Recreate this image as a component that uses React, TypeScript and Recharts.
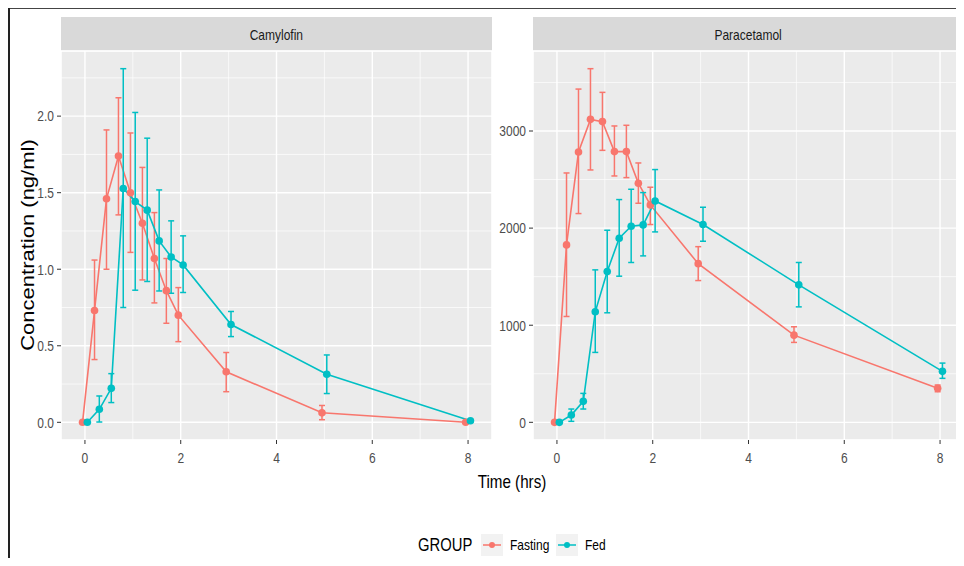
import React from 'react'
import { LineChart, Line, XAxis, YAxis, CartesianGrid, ErrorBar } from 'recharts'

// sampling times (hrs)
const TIME = [0, 0.25, 0.5, 0.75, 1, 1.25, 1.5, 1.75, 2, 3, 5, 8]
const GROUPS = ['Fasting', 'Fed']
const PANELS = ['Camylofin', 'Paracetamol']

// Camylofin (ng/ml): mean, lower and upper end of the error bar
const camFastMean = [0, 0.73, 1.46, 1.74, 1.5, 1.3, 1.07, 0.86, 0.7, 0.33, 0.062, 0]
const camFastLow = [0, 0.41, 1.0, 1.355, 1.11, 0.93, 0.78, 0.647, 0.527, 0.2, 0.017, 0]
const camFastHigh = [0, 1.06, 1.91, 2.12, 1.89, 1.665, 1.37, 1.07, 0.88, 0.456, 0.11, 0]
const camFedMean = [0, 0.085, 0.222, 1.527, 1.442, 1.386, 1.185, 1.08, 1.028, 0.639, 0.314, 0.01]
const camFedLow = [0, 0.002, 0.129, 0.75, 0.863, 0.92, 0.858, 0.843, 0.848, 0.56, 0.188, 0.004]
const camFedHigh = [0, 0.172, 0.318, 2.31, 2.024, 1.856, 1.518, 1.316, 1.218, 0.724, 0.44, 0.018]

// Paracetamol
const parFastMean = [0, 1827, 2784, 3120, 3097, 2788, 2788, 2462, 2239, 1634, 898, 350]
const parFastLow = [0, 1090, 2150, 2599, 2801, 2537, 2520, 2256, 2037, 1460, 823, 315]
const parFastHigh = [0, 2568, 3432, 3642, 3398, 3052, 3059, 2671, 2421, 1809, 984, 384]
const parFedMean = [0, 75, 216, 1138, 1553, 1896, 2020, 2033, 2280, 2037, 1416, 525]
const parFedLow = [0, 10, 137, 720, 1128, 1505, 1646, 1714, 1961, 1865, 1189, 453]
const parFedHigh = [0, 137, 298, 1570, 1978, 2294, 2400, 2366, 2603, 2215, 1646, 610]

// axis ticks
const xTicks = [0, 2, 4, 6, 8]
const xMinor = [1, 3, 5, 7]
const camTicks = [0, 0.5, 1, 1.5, 2]
const camMinor = [0.25, 0.75, 1.25, 1.75, 2.25]
const parTicks = [0, 1000, 2000, 3000]
const parMinor = [500, 1500, 2500, 3500]

const COLORS = ['#F8766D', '#00BFC4']
const DODGE = [-0.05, 0.05]
const FONT = '"Liberation Sans", Arial, sans-serif'
const SQUEEZE = 0.8 // the original figure is squeezed sideways

const rows = (mean: number[], low: number[], high: number[], shift: number) =>
  TIME.map((t, i) => ({ x: t + shift, y: mean[i], err: [mean[i] - low[i], high[i] - mean[i]] }))

// narrow tick text
function Tick(props: any) {
  const { x, y, payload, textAnchor, verticalAnchor, tickFormatter } = props
  const label = tickFormatter ? tickFormatter(payload.value) : String(payload.value)
  const dy = verticalAnchor === 'start' ? '0.71em' : '0.355em'
  return (
    <g transform={`translate(${x},${y})`}>
      <text transform={`scale(${SQUEEZE},1)`} textAnchor={textAnchor} dy={dy} fill="#4D4D4D" fontSize={15} fontFamily={FONT}>
        {label}
      </text>
    </g>
  )
}

function Panel({ series, yTicks, yMinor, yDomain, fmt, left }: any) {
  return (
    <div style={{ position: 'absolute', left, top: 0 }}>
      <LineChart width={484} height={470} margin={{ top: 43, right: 0, bottom: 8, left: 0 }}>
        <XAxis xAxisId="minor" type="number" dataKey="x" domain={[-0.5, 8.5]} ticks={xMinor} allowDataOverflow hide />
        <YAxis yAxisId="minor" type="number" domain={yDomain} ticks={yMinor} allowDataOverflow hide />
        <CartesianGrid xAxisId="minor" yAxisId="minor" stroke="#FFFFFF" strokeWidth={0.7} fill="#EBEBEB" />
        <CartesianGrid stroke="#FFFFFF" strokeWidth={1.4} />
        <XAxis
          type="number"
          dataKey="x"
          domain={[-0.5, 8.5]}
          ticks={xTicks}
          allowDataOverflow
          axisLine={false}
          tickLine={{ stroke: '#333333' }}
          tickSize={4}
          tickMargin={8}
          tick={<Tick />}
          height={30}
        />
        <YAxis
          type="number"
          domain={yDomain}
          ticks={yTicks}
          allowDataOverflow
          axisLine={false}
          tickLine={{ stroke: '#333333' }}
          tickSize={4}
          tickMargin={3}
          tick={<Tick />}
          tickFormatter={fmt}
          width={53}
        />
        {series.map((data: any, i: number) => (
          <Line
            key={GROUPS[i]}
            data={data}
            dataKey="y"
            stroke={COLORS[i]}
            strokeWidth={1.6}
            dot={{ r: 3.8, fill: COLORS[i], stroke: COLORS[i], strokeWidth: 0 }}
            activeDot={false}
            isAnimationActive={false}
          >
            <ErrorBar dataKey="err" direction="y" width={3} stroke={COLORS[i]} strokeWidth={1.5} />
          </Line>
        ))}
      </LineChart>
    </div>
  )
}

const narrow = (size: number): React.CSSProperties => ({
  fontFamily: FONT, fontSize: size, display: 'inline-block', transform: `scaleX(${SQUEEZE})`,
  transformOrigin: 'left center', whiteSpace: 'nowrap', lineHeight: 1,
})

function Strip({ label, left }: { label: string; left: number }) {
  return (
    <div
      style={{
        position: 'absolute', left, top: 9, width: 431, height: 34, background: '#D9D9D9',
        display: 'flex', alignItems: 'center', justifyContent: 'center', color: '#1A1A1A',
      }}
    >
      <span style={{ ...narrow(15), transformOrigin: 'center' }}>{label}</span>
    </div>
  )
}

function Key({ color, left }: { color: string; left: number }) {
  return (
    <svg width={22} height={22} style={{ position: 'absolute', left, top: 526, background: '#F2F2F2' }}>
      <line x1={2} x2={20} y1={11} y2={11} stroke={color} strokeWidth={1.5} />
      <circle cx={11} cy={11} r={3} fill={color} />
    </svg>
  )
}

function Label({ text, left, size }: { text: string; left: number; size: number }) {
  return (
    <div style={{ position: 'absolute', left, top: 537, transform: 'translateY(-50%)', color: '#000' }}>
      <span style={narrow(size)}>{text}</span>
    </div>
  )
}

export default function App() {
  const cam = [
    rows(camFastMean, camFastLow, camFastHigh, DODGE[0]),
    rows(camFedMean, camFedLow, camFedHigh, DODGE[1]),
  ]
  const par = [
    rows(parFastMean, parFastLow, parFastHigh, DODGE[0]),
    rows(parFedMean, parFedLow, parFedHigh, DODGE[1]),
  ]

  return (
    <div style={{ position: 'relative', width: 956, height: 550, background: '#FFFFFF' }}>
      <div style={{ position: 'absolute', left: 0, top: -1, width: 956, height: 2, background: '#444' }} />
      <div style={{ position: 'absolute', left: 0, top: -1, width: 1.5, height: 551, background: '#222' }} />

      <Strip label={PANELS[0]} left={53} />
      <Strip label={PANELS[1]} left={525} />

      <Panel series={cam} yTicks={camTicks} yMinor={camMinor} yDomain={[-0.1155, 2.4255]} fmt={(v: number) => v.toFixed(1)} left={0} />
      <Panel series={par} yTicks={parTicks} yMinor={parMinor} yDomain={[-182, 3824]} fmt={(v: number) => String(v)} left={472} />

      <div
        style={{
          position: 'absolute', left: 20, top: 237, transform: 'translate(-50%, -50%) rotate(-90deg) scaleY(0.8)',
          whiteSpace: 'nowrap', fontFamily: FONT, fontSize: 22, color: '#000',
        }}
      >
        Concentration (ng/ml)
      </div>

      <div style={{ position: 'absolute', left: 504, top: 474, transform: 'translate(-50%, -50%)', color: '#000' }}>
        <span style={{ ...narrow(19), transformOrigin: 'center' }}>Time (hrs)</span>
      </div>

      {/* legend */}
      <Label text="GROUP" left={410} size={18.5} />
      <Key color={COLORS[0]} left={473} />
      <Label text={GROUPS[0]} left={502} size={15} />
      <Key color={COLORS[1]} left={548} />
      <Label text={GROUPS[1]} left={577} size={15} />
    </div>
  )
}
